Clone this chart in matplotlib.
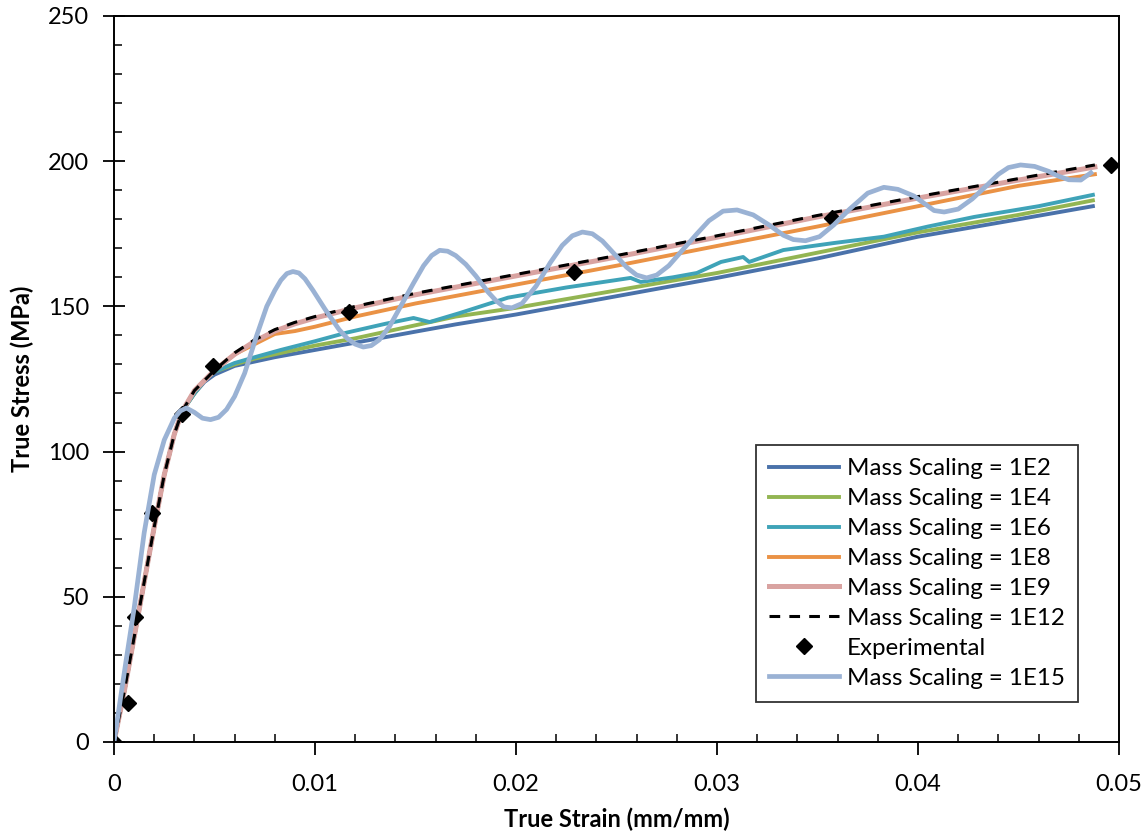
import matplotlib
matplotlib.use("Agg")
import matplotlib.pyplot as plt
from matplotlib.ticker import MultipleLocator

plt.rcParams['font.family'] = ['Lato', 'DejaVu Sans']

# strain (mm/mm) / stress (MPa) for each mass scaling run
strain_1e12 = [0, 0.0005, 0.001, 0.0015, 0.002, 0.0025, 0.003, 0.0034, 0.004, 0.005, 0.006,
               0.007, 0.008, 0.009, 0.010, 0.012, 0.015, 0.020, 0.025, 0.030, 0.035, 0.040,
               0.045, 0.0488]
stress_1e12 = [0, 17, 36, 55, 74, 92, 106, 114, 121, 128, 134,
               138.5, 142, 144.5, 146.5, 150, 154.5, 161, 167.5, 174.3, 181.3, 187.8,
               194, 198.7]
stress_1e9 = [0, 17, 36, 55, 74, 92, 106, 114, 121, 128, 133.5,
              138, 141.5, 144, 146, 149.5, 154, 160.5, 167, 173.8, 180.8, 187.3,
              193.5, 198]

strain_1e8 = [0, 0.0005, 0.001, 0.0015, 0.002, 0.0025, 0.003, 0.0034, 0.004, 0.005, 0.006,
              0.007, 0.008, 0.009, 0.010, 0.012, 0.015, 0.020, 0.025, 0.030, 0.035, 0.040,
              0.045, 0.0488]
stress_1e8 = [0, 17, 36, 55, 74, 92, 106, 114, 121, 128, 133.5,
              137, 140.5, 141.5, 143, 146.5, 151, 157.5, 164, 170.8, 177.5, 184.5,
              191.5, 195.5]

strain_low = [0, 0.0005, 0.001, 0.0015, 0.002, 0.0025, 0.003, 0.0034, 0.004, 0.0045, 0.005,
              0.006, 0.007, 0.008, 0.010, 0.012, 0.015, 0.017, 0.020, 0.025, 0.030, 0.035,
              0.040, 0.045, 0.0487]
stress_1e2 = [0, 17, 36, 55, 74, 92, 106, 114, 120, 124, 126.5,
              129.5, 131, 132.5, 135, 137.5, 141.3, 143.8, 147.2, 153.5, 159.8, 166.5,
              174, 180, 184.5]
stress_1e4 = [0, 17, 36, 55, 74, 92, 106, 114, 120, 124.5, 127.5,
              130, 132, 133.5, 136.5, 139, 143.5, 146.5, 149.5, 155.5, 161.5, 168.5,
              175.5, 181.5, 186.5]

strain_1e6 = [0, 0.0005, 0.001, 0.0015, 0.002, 0.0025, 0.003, 0.0034, 0.004, 0.0045, 0.005,
              0.006, 0.007, 0.0083, 0.010, 0.0116, 0.0135, 0.0149, 0.0157, 0.0172, 0.0196,
              0.0225, 0.0257, 0.0262, 0.0278, 0.029, 0.0302, 0.0313, 0.0316, 0.0333, 0.0358,
              0.0383, 0.0405, 0.0428, 0.046, 0.0487]
stress_1e6 = [0, 17, 36, 55, 74, 92, 106, 114, 120, 124.5, 127.5,
              130.5, 132.5, 135, 138, 141, 144, 146, 144.6, 147.7, 153,
              156.5, 159.8, 158.4, 160, 161.5, 165.3, 167, 165.3, 169.4, 171.8,
              174, 177.5, 180.8, 184.5, 188.4]

strain_1e15 = [0, 0.0003, 0.0006, 0.001, 0.0015, 0.002, 0.0025, 0.003, 0.0033, 0.0036, 0.004,
               0.0044, 0.0048, 0.0052, 0.0056, 0.006, 0.0065, 0.0071, 0.0076, 0.008, 0.0083,
               0.0086, 0.0089, 0.0092, 0.0095, 0.0099, 0.0105, 0.0112, 0.0116, 0.012, 0.0124,
               0.0128, 0.0132, 0.0137, 0.0143, 0.0149, 0.0154, 0.0158, 0.0162, 0.0166, 0.017,
               0.0175, 0.018, 0.0186, 0.019, 0.0194, 0.0198, 0.0203, 0.021, 0.0217, 0.0223,
               0.0228, 0.0233, 0.0238, 0.0243, 0.0249, 0.0255, 0.026, 0.0265, 0.027, 0.0276,
               0.0283, 0.029, 0.0296, 0.0303, 0.031, 0.0318, 0.0326, 0.0333, 0.0338, 0.0344,
               0.0351, 0.0358, 0.0366, 0.0375, 0.0383, 0.039, 0.0398, 0.0404, 0.0408, 0.0413,
               0.042, 0.0427, 0.0434, 0.044, 0.0445, 0.0451, 0.0458, 0.0465, 0.047, 0.0475,
               0.0481, 0.0486]
stress_1e15 = [0, 14, 28, 46, 72, 92, 104, 111.5, 114, 115, 113.5,
               111.5, 111, 111.8, 114.5, 119, 127, 140, 150, 155.5, 159,
               161.3, 162, 161.5, 159.5, 155.5, 149, 142, 139, 137, 136,
               136.5, 138.5, 143, 150.5, 158, 164, 167.5, 169.3, 169, 167.5,
               164.5, 160.5, 155, 152, 149.8, 149.5, 151, 157, 165, 171,
               174.3, 175.6, 175, 172.5, 168, 163.5, 160.8, 159.8, 160.8, 164,
               169.5, 175, 179.5, 182.8, 183.2, 181.5, 178, 174.5, 173, 172.6,
               174, 178, 183.5, 189, 191, 190.3, 188, 185, 183, 182.5,
               183.5, 187, 191.5, 195.5, 197.8, 198.7, 198.2, 196.5, 194.8, 193.6,
               193.5, 196]

exp_strain = [0, 0.0007, 0.00105, 0.0019, 0.0034, 0.0049, 0.0117, 0.0229, 0.0357, 0.0496]
exp_stress = [0, 13.4, 43, 79, 112.8, 129.6, 148, 162, 180.3, 198.6]

fig = plt.figure(figsize=(11.47, 8.32), dpi=100)
ax = fig.add_axes([0.0994, 0.1082, 0.8762, 0.8726])

lw = 2.8
ax.plot(strain_low, stress_1e2, color='#4a72aa', lw=lw, label='Mass Scaling = 1E2')
ax.plot(strain_low, stress_1e4, color='#93b552', lw=lw, label='Mass Scaling = 1E4')
ax.plot(strain_1e6, stress_1e6, color='#3fa3b8', lw=lw, label='Mass Scaling = 1E6')
ax.plot(strain_1e8, stress_1e8, color='#ea9245', lw=lw, label='Mass Scaling = 1E8')
ax.plot(strain_1e12, stress_1e9, color='#d9a3a1', lw=lw + 0.8, label='Mass Scaling = 1E9')
ax.plot(strain_1e12, stress_1e12, color='black', lw=2.2, ls=(0, (3.5, 3)),
        label='Mass Scaling = 1E12')
ax.plot(exp_strain, exp_stress, ls='none', marker='D', ms=8, color='black',
        label='Experimental')
ax.plot(strain_1e15, stress_1e15, color='#9ab2d4', lw=lw + 0.6, label='Mass Scaling = 1E15',
        solid_joinstyle='round')

ax.set_xlim(0, 0.05)
ax.set_ylim(0, 250)
ax.set_xticks([0, 0.01, 0.02, 0.03, 0.04, 0.05])
ax.set_xticklabels(['0', '0.01', '0.02', '0.03', '0.04', '0.05'])
ax.set_yticks([0, 50, 100, 150, 200, 250])
ax.xaxis.set_minor_locator(MultipleLocator(0.002))
ax.yaxis.set_minor_locator(MultipleLocator(10))
ax.tick_params(axis='x', which='major', direction='out', length=9, width=1.3,
               labelsize=17, pad=14)
ax.tick_params(axis='y', which='major', direction='inout', length=16, width=1.3,
               labelsize=17, pad=10)
ax.tick_params(which='minor', direction='in', length=6, width=1.1)
for sp in ax.spines.values():
    sp.set_linewidth(1.4)
    sp.set_color('black')

ax.set_xlabel('True Strain (mm/mm)', fontsize=17, fontweight='bold', labelpad=9)
ax.set_ylabel('True Stress (MPa)', fontsize=17, fontweight='bold', labelpad=10)

leg = ax.legend(loc='lower right', bbox_to_anchor=(0.959, 0.055), borderaxespad=0,
                fontsize=17.4, handlelength=2.9, labelspacing=0.37, handletextpad=0.3,
                fancybox=False, frameon=True, borderpad=0.55)
leg.get_frame().set_edgecolor('black')
leg.get_frame().set_linewidth(1.3)

fig.savefig('out.png', dpi=100)
